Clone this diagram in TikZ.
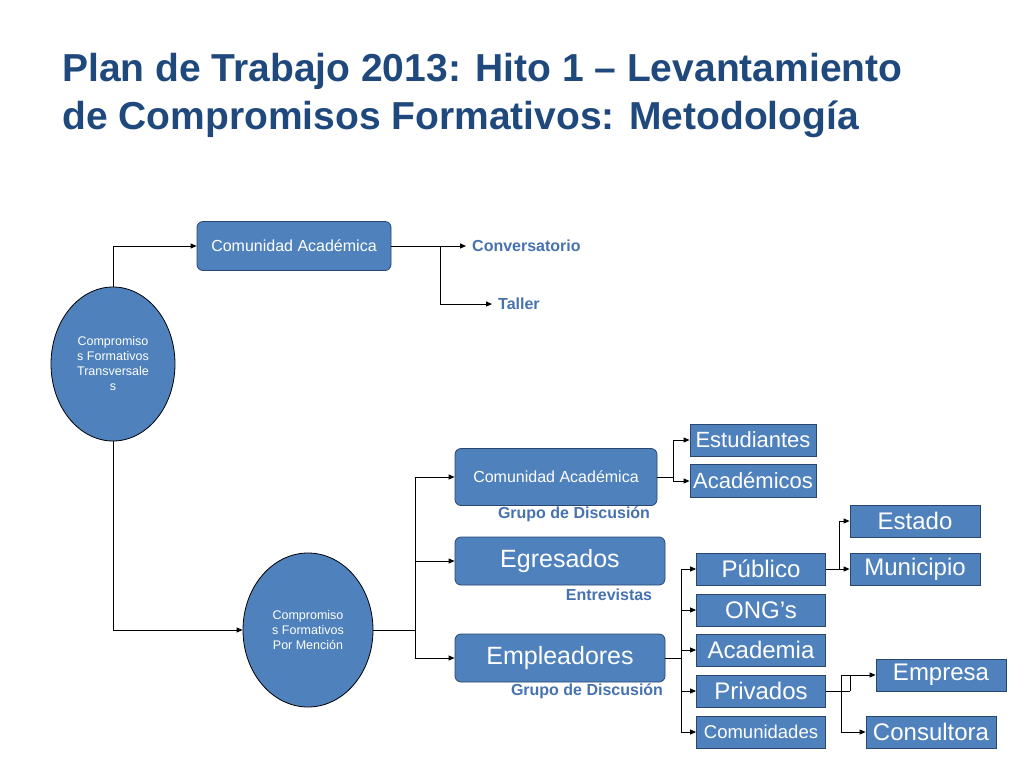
\documentclass[tikz,border=0pt]{standalone}
\usepackage{fontspec}
\setmainfont{Liberation Sans}
\usetikzlibrary{arrows.meta,shapes.geometric}
\definecolor{boxblue}{RGB}{79,129,189}
\definecolor{edgeblue}{RGB}{40,70,110}
\definecolor{titleblue}{RGB}{31,73,125}
\definecolor{lblblue}{RGB}{70,114,176}
\begin{document}
\begin{tikzpicture}[x=1pt,y=-1pt,
  rbox/.style={draw=edgeblue,fill=boxblue,rounded corners=6pt,text=white,inner sep=0pt,line width=0.8pt},
  sbox/.style={draw=edgeblue,fill=boxblue,text=white,inner sep=0pt,line width=0.8pt},
  lbl/.style={text=lblblue,font=\bfseries\fontsize{16}{18}\selectfont,inner sep=0pt},
  conn/.style={line width=0.9pt,-{Triangle[length=6pt,width=5pt]}},
  plain/.style={line width=0.9pt}]
\useasboundingbox (0,0) rectangle (1024,768);
\node[anchor=west,text=titleblue,font=\bfseries\fontsize{39}{48}\selectfont,align=left,inner sep=0pt] (title) at (62,96) {Plan de Trabajo 2013: Hito 1 -- Levantamiento\\de Compromisos Formativos: Metodología};

\node[rbox,minimum width=194pt,minimum height=49pt,font=\fontsize{16}{18}\selectfont] (ca1) at (294,246) {Comunidad Académica};
\node[lbl,anchor=west] (conv) at (472,246) {Conversatorio};
\node[lbl,anchor=west] (taller) at (498,304) {Taller};
\draw[conn,shorten >=6pt] (ca1.east) -- (conv.west);
\coordinate (b1) at (440,246);
\draw[conn,shorten >=6pt] (b1) |- (taller.west);

\node[draw=black,fill=boxblue,ellipse,minimum width=124pt,minimum height=154pt,inner sep=0pt,text=white,align=center,font=\fontsize{12.5}{15}\selectfont,line width=0.8pt] (e1) at (113,364) {Compromiso\\s Formativos\\Transversale\\s};
\node[draw=black,fill=boxblue,ellipse,minimum width=130pt,minimum height=154pt,inner sep=0pt,text=white,align=center,font=\fontsize{12.5}{15}\selectfont,line width=0.8pt] (e2) at (308,630) {Compromiso\\s Formativos\\Por Mención};
\draw[conn] (e1.north) |- (ca1.west);
\draw[conn] (e1.south) |- (e2.west);

\node[rbox,minimum width=202pt,minimum height=57pt,font=\fontsize{16}{18}\selectfont] (ca2) at (556,477) {Comunidad Académica};
\node[rbox,minimum width=210pt,minimum height=48pt,font=\fontsize{25}{28}\selectfont] (egr) at (560,561) {Egresados};
\node[rbox,minimum width=210pt,minimum height=48pt,font=\fontsize{25}{28}\selectfont] (emp) at (560,658) {Empleadores};
\node[lbl] (g1) at (574,514) {Grupo de Discusión};
\node[lbl] (ent) at (609,595) {Entrevistas};
\node[lbl] (g2) at (587,691) {Grupo de Discusión};
\coordinate (b2) at (415,630);
\draw[plain] (e2.east) -- (b2);
\draw[conn] (b2) |- (ca2.west);
\draw[conn] (b2) |- (egr.west);
\draw[conn] (b2) |- (emp.west);

\node[sbox,minimum width=126pt,minimum height=32pt,font=\fontsize{22}{24}\selectfont] (est) at (753,440) {Estudiantes};
\node[sbox,minimum width=126pt,minimum height=33pt,font=\fontsize{22}{24}\selectfont] (aca) at (753,481) {Académicos};
\coordinate (b3) at (673,477);
\draw[plain] (ca2.east) -- (b3);
\draw[conn] (b3) |- (est.west);
\draw[conn] (b3) |- (aca.west);

\tikzset{mid/.style={sbox,minimum width=129pt,minimum height=32pt,font=\fontsize{24}{26}\selectfont}}
\node[mid] (pub) at (761,569) {Público};
\node[mid] (ong) at (761,610) {ONG’s};
\node[mid] (acad) at (761,650) {Academia};
\node[mid] (priv) at (761,691) {Privados};
\node[mid,font=\fontsize{18.5}{20}\selectfont] (com) at (761,732) {Comunidades};
\coordinate (b4) at (681,658);
\draw[plain] (emp.east) -- (b4);
\foreach \n in {pub,ong,acad,priv,com} \draw[conn] (b4) |- (\n.west);

\node[mid,minimum width=130pt] (esta) at (915,521) {Estado};
\node[mid,minimum width=130pt] (muni) at (915,569) {Municipio};
\coordinate (b5) at (839,569);
\draw[plain] (pub.east) -- (b5);
\draw[conn] (b5) |- (esta.west);
\draw[conn] (b5) -- (muni.west);

\node[mid,minimum width=130pt] (empr) at (941,675) {Empresa};
\node[mid,minimum width=130pt] (cons) at (931,732) {Consultora};
\coordinate (b6) at (850,691);
\coordinate (b7) at (841,675);
\draw[plain] (priv.east) -- (b6);
\draw[conn] (b6) |- (empr.west);
\draw[plain] (b7) -- ++(9,0);
\draw[conn] (b7) |- (cons.west);
\end{tikzpicture}
\end{document}
